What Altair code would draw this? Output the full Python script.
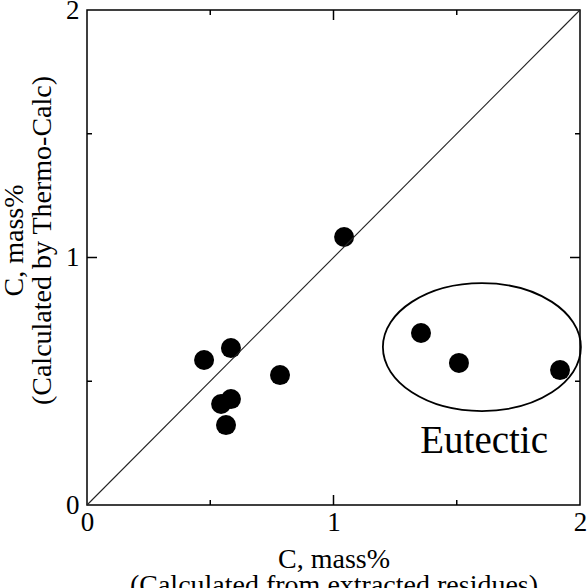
import altair as alt
import pandas as pd

# ---- data ----
x_vals = [0.475, 0.584, 0.783, 0.584, 0.544, 0.564, 1.043, 1.355, 1.509, 1.919]
y_vals = [0.586, 0.634, 0.525, 0.428, 0.408, 0.323, 1.083, 0.695, 0.574, 0.545]
tick_labels = [0, 1, 2]
major_ticks = [1]
minor_ticks = [0.5, 1.5]
diag_x = [0, 2]
diag_y = [0, 2]
ellipse_x = [1.602]
ellipse_y = [0.638]
note_x = [1.611]
note_y = [0.21]
note_text = ["Eutectic"]
x_title = ["C, mass%", "(Calculated from extracted residues)"]
y_title = ["C, mass%", "(Calculated by Thermo-Calc)"]

FONT = "Liberation Serif"
W, H = 493, 495

pts = pd.DataFrame({"x": x_vals, "y": y_vals})
diag = pd.DataFrame({"x": diag_x, "y": diag_y})
ell = pd.DataFrame({"x": ellipse_x, "y": ellipse_y})
note = pd.DataFrame({"x": note_x, "y": note_y, "t": note_text})
maj = pd.DataFrame({"x": major_ticks, "y": major_ticks})
mnr = pd.DataFrame({"x": minor_ticks, "y": minor_ticks})

sc = alt.Scale(domain=[0, 2], nice=False, zero=False)

LBL = "'' + round(datum.value)"

xax = alt.Axis(values=tick_labels, labelExpr=LBL, title=x_title, grid=False,
               domain=False, ticks=False, labelFont=FONT, labelFontSize=27,
               labelColor="black", labelPadding=4, labelFlush=False,
               labelOverlap=False,
               titleFont=FONT, titleFontSize=28, titleFontWeight="normal",
               titleColor="black", titleLineHeight=26,
               titleBaseline="alphabetic", titleY=62, titleX=W / 2)
yax = alt.Axis(values=tick_labels, labelExpr=LBL, title=y_title, grid=False,
               domain=False, ticks=False, labelFont=FONT, labelFontSize=27,
               labelColor="black", labelPadding=8, labelFlush=False,
               labelOverlap=False,
               titleFont=FONT, titleFontSize=28, titleFontWeight="normal",
               titleColor="black", titleLineHeight=28, titleAngle=270,
               titleBaseline="alphabetic", titleX=-65, titleY=230)

X = alt.X("x:Q", scale=sc, axis=xax)
Y = alt.Y("y:Q", scale=sc, axis=yax)

points = alt.Chart(pts).mark_point(filled=True, size=400, color="black",
                                   opacity=1, strokeWidth=0).encode(x=X, y=Y)

diag_line = alt.Chart(diag).mark_line(color="#222", strokeWidth=1.1).encode(x=X, y=Y)

ellipse_path = "M-1,0A1,0.646,0,1,0,1,0A1,0.646,0,1,0,-1,0Z"
ellipse = alt.Chart(ell).mark_point(shape=ellipse_path, size=198 * 198,
                                    filled=False, color="black",
                                    strokeWidth=1.8, opacity=1).encode(x=X, y=Y)

text = alt.Chart(note).mark_text(font=FONT, fontSize=39, color="black",
                                 align="center", baseline="alphabetic").encode(
    x=X, y=Y, text="t:N")

def xticks(df, length):
    bottom = alt.Chart(df).mark_rule(color="black", strokeWidth=1.5).encode(
        x=X, y=alt.value(H), y2=alt.value(H - length))
    top = alt.Chart(df).mark_rule(color="black", strokeWidth=1.5).encode(
        x=X, y=alt.value(0), y2=alt.value(length))
    return [bottom, top]

def yticks(df, length):
    left = alt.Chart(df).mark_rule(color="black", strokeWidth=1.5).encode(
        y=Y, x=alt.value(0), x2=alt.value(length))
    right = alt.Chart(df).mark_rule(color="black", strokeWidth=1.5).encode(
        y=Y, x=alt.value(W), x2=alt.value(W - length))
    return [left, right]

tick_layers = xticks(maj, 10) + xticks(mnr, 5) + yticks(maj, 10) + yticks(mnr, 5)

chart = alt.layer(points, diag_line, ellipse, text, *tick_layers).properties(
    width=W, height=H, autosize="none",
    padding={"left": 87, "top": 10, "right": 8, "bottom": 83},
    background="white",
).configure_view(stroke="black", strokeWidth=1.5)

chart.save("out.html", embed_options={"renderer": "svg", "actions": False})
